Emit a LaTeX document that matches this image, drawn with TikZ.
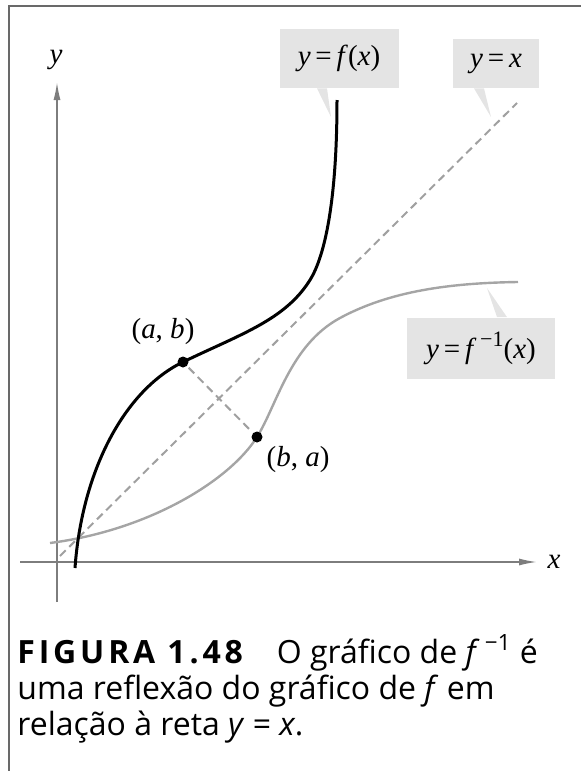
\documentclass[tikz,border=0pt]{standalone}
\usepackage{fontspec}
\setmainfont{Liberation Serif}
\newfontfamily\capfont{Open Sans}
\usetikzlibrary{arrows.meta,positioning}
\definecolor{framegray}{RGB}{105,105,105}
\definecolor{axisgray}{RGB}{125,125,125}
\definecolor{invgray}{RGB}{165,165,165}
\definecolor{dashgray}{RGB}{160,160,160}
\definecolor{boxgray}{RGB}{228,228,228}
\newcommand{\invsup}{\raisebox{0.42em}{\fontsize{11}{11}\selectfont\,−1}}

\begin{document}
\begin{tikzpicture}[x=0.5pt,y=-0.5pt,lbl/.style={fill=boxgray,inner sep=0pt,font=\fontsize{14.5}{16}\selectfont},ptlab/.style={font=\fontsize{14.5}{16}\selectfont},axis/.style={draw=axisgray,line width=0.8pt,-{Latex[length=9pt,width=3.5pt]}},guide/.style={draw=dashgray,line width=1pt,dash pattern=on 4pt off 2.5pt},dot/.style={circle,fill=black,inner sep=0pt,minimum size=5.5pt}]
\useasboundingbox (0,0) rectangle (581,771);
\draw[framegray,line width=1pt] (9,771) -- (9,6) -- (581,6);
\coordinate (xl) at (20,562); \coordinate (xr) at (537,562);
\coordinate (yb) at (57,602); \coordinate (yt) at (57,82);
\draw[axis] (xl) -- (xr);
\draw[axis] (yb) -- (yt);
\node[ptlab] (xlab) at (554,562) {\textit{x}};
\node[ptlab] (ylab) at (56,60) {\textit{y}};
\coordinate (ab) at (183,362); \coordinate (ba) at (257,437);
\coordinate (d0) at (60,556); \coordinate (d1) at (517,103);
\coordinate (f0) at (75,568); \coordinate (f1) at (310,280); \coordinate (f2) at (337,100);
\coordinate (g0) at (50,543); \coordinate (g1) at (340,318); \coordinate (g2) at (518,282);
\draw[guide] (d0) -- (d1);
\draw[guide,shorten <=4pt,shorten >=4pt] (ab) -- (ba);
\draw[invgray,line width=1.2pt] (g0) .. controls (150,530) and (230,480) .. (ba) .. controls (277,405) and (290,345) .. (g1) .. controls (390,291) and (450,283) .. (g2);
\draw[black,line width=1.5pt] (f0) .. controls (82,470) and (125,390) .. (ab) .. controls (241,334) and (285,320) .. (f1) .. controls (325,256) and (337,200) .. (f2);
\node[dot] (abdot) at (ab) {};
\node[dot] (badot) at (ba) {};
\node[ptlab] (ablab) at (163,332) {(\textit{a}, \textit{b})};
\node[ptlab] (balab) at (298,460) {(\textit{b}, \textit{a})};
\node[lbl,minimum width=59.5pt,minimum height=29.5pt] (fbox) at (339,58.5) {\textit{y}\,=\,\textit{f}(\textit{x})};
\node[lbl,minimum width=43pt,minimum height=24.5pt] (idbox) at (496,63.5) {\textit{y}\,=\,\textit{x}};
\node[lbl,minimum width=74pt,minimum height=30.5pt] (invbox) at (481,348) {\textit{y}\,=\,\textit{f}\invsup(\textit{x})};
\coordinate (ftip) at (331,117); \coordinate (idtip) at (491,117); \coordinate (invtip) at (487,288);
\fill[boxgray] ([xshift=-11pt]fbox.south) -- ([xshift=-6pt]fbox.south) -- (ftip) -- cycle;
\fill[boxgray] ([xshift=-11pt]idbox.south) -- ([xshift=-6pt]idbox.south) -- (idtip) -- cycle;
\fill[boxgray] ([xshift=8pt]invbox.north) -- ([xshift=13pt]invbox.north) -- (invtip) -- cycle;
\node[anchor=base west,align=left,inner sep=0pt,font=\capfont\fontsize{16}{18}\selectfont] (cap) at (17,735) {{\bfseries\addfontfeature{LetterSpace=12}FIGURA 1.48}\hspace{17pt}O gráfico de \textit{f}\,\textsuperscript{−1} é\\uma reflexão do gráfico de \textit{f} em\\relação à reta \textit{y} = \textit{x}.};
\end{tikzpicture}
\end{document}
